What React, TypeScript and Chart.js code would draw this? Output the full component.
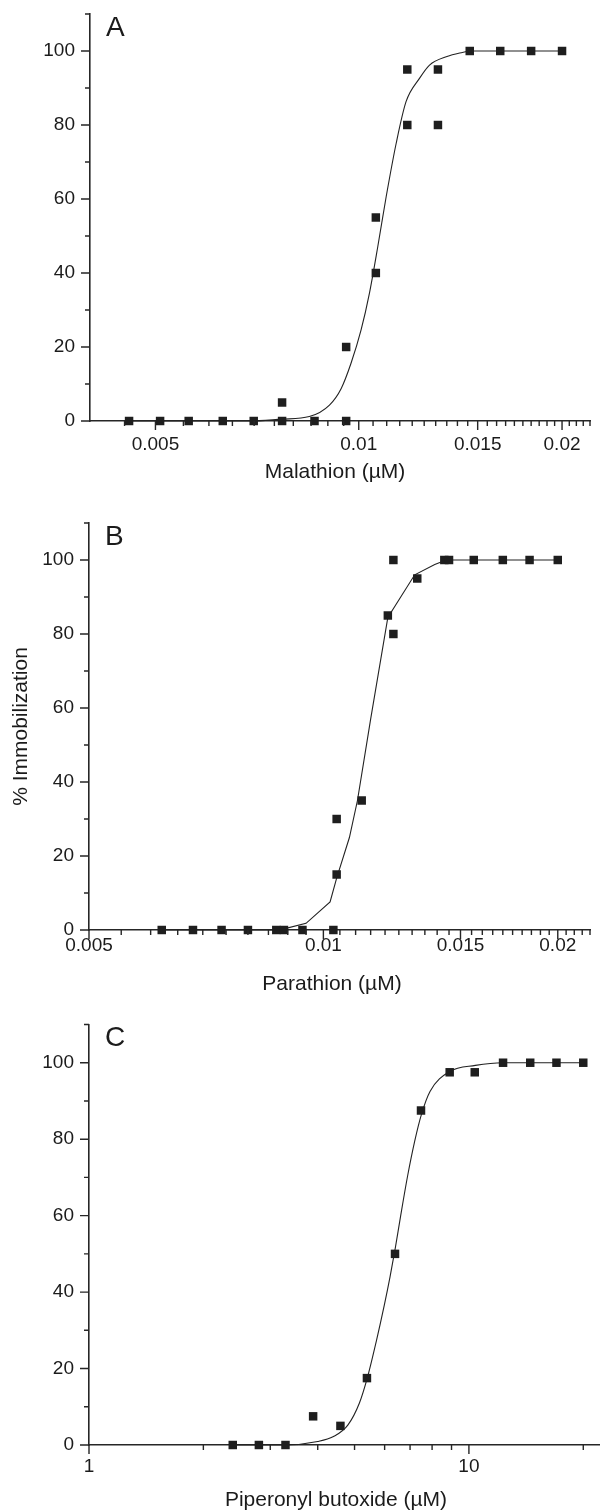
import React, { useEffect, useRef } from "react";
import { Chart, registerables } from "chart.js";

Chart.register(...registerables);

const FONT = "'Liberation Sans', Arial, Helvetica, sans-serif";
const INK = "#1b1b1b";
const AXIS = "#262626";
const MARK = "#1e1e1e";

// ---------- Panel A: Malathion ----------
const malathionDose = [0.00457, 0.00508, 0.0056, 0.00629, 0.00699, 0.0077, 0.0077, 0.0086, 0.00958, 0.00958, 0.0106, 0.0106, 0.0118, 0.0118, 0.0131, 0.0131, 0.0146, 0.0162, 0.018, 0.02];
const malathionResp = [0, 0, 0, 0, 0, 0, 5, 0, 0, 20, 40, 55, 80, 95, 80, 95, 100, 100, 100, 100];
const malathionFitDose = [0.00457, 0.0069, 0.0077, 0.00845, 0.00905, 0.00942, 0.00974, 0.01008, 0.01037, 0.01067, 0.01098, 0.01136, 0.01175, 0.0123, 0.01273, 0.01351, 0.01424, 0.01462, 0.02];
const malathionFitResp = [0, 0, 0.5, 1.2, 4.3, 8.8, 15.6, 24.6, 34.5, 47.1, 60.6, 75, 86.3, 92.6, 96.2, 98.5, 99.6, 100, 100];
const malathionTicks = [0.005, 0.01, 0.015, 0.02];
const malathionTickLabels = ["0.005", "0.01", "0.015", "0.02"];

// ---------- Panel B: Parathion ----------
const parathionDose = [0.0062, 0.0068, 0.0074, 0.008, 0.0087, 0.0089, 0.0094, 0.0103, 0.0104, 0.0104, 0.0112, 0.0121, 0.0123, 0.0123, 0.0132, 0.0143, 0.0145, 0.0156, 0.017, 0.0184, 0.02];
const parathionResp = [0, 0, 0, 0, 0, 0, 0, 0, 15, 30, 35, 85, 80, 100, 95, 100, 100, 100, 100, 100, 100];
const parathionFitDose = [0.0062, 0.0087, 0.0089, 0.0095, 0.0102, 0.0104, 0.0108, 0.01106, 0.0115, 0.0121, 0.0131, 0.0139, 0.0143, 0.0145, 0.02];
const parathionFitResp = [0, 0, 0.3, 1.8, 7.6, 14, 25, 35, 57, 84.5, 96, 98.8, 99.8, 100, 100];
const parathionTicks = [0.005, 0.01, 0.015, 0.02];
const parathionTickLabels = ["0.005", "0.01", "0.015", "0.02"];

// ---------- Panel C: Piperonyl butoxide ----------
const pboDose = [2.39, 2.8, 3.29, 3.89, 4.59, 5.39, 6.39, 7.48, 8.9, 10.36, 12.3, 14.5, 17.0, 20.0];
const pboResp = [0, 0, 0, 7.5, 5, 17.5, 50, 87.5, 97.5, 97.5, 100, 100, 100, 100];
const pboFitDose = [2.39, 3.29, 4.0, 4.4, 4.8, 5.15, 5.4, 5.7, 6.0, 6.2, 6.4, 6.6, 6.9, 7.2, 7.5, 7.9, 8.9, 10.4, 12.3, 20];
const pboFitResp = [0, 0, 0.9, 2.2, 5.2, 11, 17.5, 27, 37, 44, 51.5, 59.5, 70.5, 79.5, 86.5, 92.5, 97.7, 99.3, 100, 100];
const pboTicks = [1, 10];
const pboTickLabels = ["1", "10"];
const pboMinorTicks = [2, 3, 4, 5, 6, 7, 8, 9, 20];

// ---------- shared y axis ----------
const yTicks = [0, 20, 40, 60, 80, 100];
const yTickLabels = ["0", "20", "40", "60", "80", "100"];
const yMinorTicks = [10, 30, 50, 70, 90, 110];

function halfThousandths(fromK: number, toK: number): number[] {
  const out: number[] = [];
  for (let k = fromK; k <= toK; k++) {
    if (k % 10 !== 0) out.push(k * 0.0005);
  }
  return out;
}

type PanelSpec = {
  letter: string;
  top: number;
  height: number;
  chartTop: number;
  chartBottom: number;
  chartLeft: number;
  chartRight: number;
  xMin: number;
  xMax: number;
  dose: number[];
  resp: number[];
  fitDose: number[];
  fitResp: number[];
  smooth: boolean;
  xTicks: number[];
  xTickLabels: string[];
  xMinor: number[];
  xTitle: string;
  xTickPad: number;
  xTitleX: number;
  xTitleY: number;
  yTitle?: string;
};

const panels: PanelSpec[] = [
  {
    letter: "A", top: 0, height: 490,
    chartTop: 14, chartBottom: 421, chartLeft: 90, chartRight: 590,
    xMin: 0.004, xMax: 0.022,
    dose: malathionDose, resp: malathionResp, fitDose: malathionFitDose, fitResp: malathionFitResp, smooth: true,
    xTicks: malathionTicks, xTickLabels: malathionTickLabels, xMinor: halfThousandths(9, 44),
    xTitle: "Malathion (\u00b5M)", xTickPad: 14.5, xTitleX: 335, xTitleY: 472.5,
  },
  {
    letter: "B", top: 490, height: 510,
    chartTop: 33, chartBottom: 440, chartLeft: 89, chartRight: 590,
    xMin: 0.005, xMax: 0.022,
    dose: parathionDose, resp: parathionResp, fitDose: parathionFitDose, fitResp: parathionFitResp, smooth: false,
    xTicks: parathionTicks, xTickLabels: parathionTickLabels, xMinor: halfThousandths(11, 44),
    xTitle: "Parathion (\u00b5M)", xTickPad: 6.5, xTitleX: 332, xTitleY: 494,
    yTitle: "% Immobilization",
  },
  {
    letter: "C", top: 1000, height: 511,
    chartTop: 24.5, chartBottom: 445, chartLeft: 89, chartRight: 605,
    xMin: 1, xMax: 22,
    dose: pboDose, resp: pboResp, fitDose: pboFitDose, fitResp: pboFitResp, smooth: true,
    xTicks: pboTicks, xTickLabels: pboTickLabels, xMinor: pboMinorTicks,
    xTitle: "Piperonyl butoxide (\u00b5M)", xTickPad: 12.5, xTitleX: 336, xTitleY: 500,
  },
];

function Panel({ spec }: { spec: PanelSpec }) {
  const ref = useRef<HTMLCanvasElement | null>(null);

  useEffect(() => {
    const canvas = ref.current;
    if (!canvas) return;
    const s = spec;

    const decorations = {
      id: "decorations" + s.letter,
      afterDraw(chart: any) {
        const { ctx, chartArea } = chart;
        const xs = chart.scales.x;
        const ys = chart.scales.y;
        ctx.save();
        ctx.strokeStyle = AXIS;
        ctx.lineWidth = 1.4;
        ctx.beginPath();
        const bottom = chartArea.bottom;
        const left = chartArea.left;
        const xt = (v: number, len: number) => {
          const p = xs.getPixelForValue(v);
          ctx.moveTo(p, bottom);
          ctx.lineTo(p, bottom + len);
        };
        const yt = (v: number, len: number) => {
          const p = ys.getPixelForValue(v);
          ctx.moveTo(left, p);
          ctx.lineTo(left - len, p);
        };
        s.xTicks.forEach((v) => xt(v, 9));
        s.xMinor.forEach((v) => xt(v, 5));
        yTicks.forEach((v) => yt(v, 9));
        yMinorTicks.forEach((v) => yt(v, 5));
        ctx.stroke();
        ctx.fillStyle = INK;
        // panel letter
        ctx.font = `28px ${FONT}`;
        ctx.textAlign = "left";
        ctx.textBaseline = "alphabetic";
        ctx.fillText(s.letter, chartArea.left + 16, chartArea.top + 21.5);
        // x axis title
        ctx.font = `21px ${FONT}`;
        ctx.textAlign = "center";
        ctx.textBaseline = "middle";
        ctx.fillText(s.xTitle, s.xTitleX, s.xTitleY);
        ctx.restore();
      },
    };

    const chart = new Chart(canvas, {
      type: "scatter",
      data: {
        datasets: [
          {
            type: "line",
            data: s.fitDose.map((x, i) => ({ x, y: s.fitResp[i] })),
            borderColor: "#222",
            borderWidth: 1.1,
            pointRadius: 0,
            fill: false,
            tension: 0,
            cubicInterpolationMode: s.smooth ? "monotone" : "default",
            order: 1,
            clip: false,
          } as any,
          {
            type: "scatter",
            data: s.dose.map((x, i) => ({ x, y: s.resp[i] })),
            pointStyle: "rect",
            pointRadius: 6.0,
            backgroundColor: MARK,
            borderColor: MARK,
            borderWidth: 0,
            order: 0,
            clip: false,
          } as any,
        ],
      },
      options: {
        animation: false,
        responsive: false,
        devicePixelRatio: 1,
        events: [],
        layout: { padding: { top: s.chartTop, right: 605 - s.chartRight, left: 0, bottom: 0 } },
        plugins: {
          legend: { display: false },
          tooltip: { enabled: false },
          title: { display: false },
        },
        scales: {
          x: {
            type: "logarithmic",
            position: "bottom",
            min: s.xMin,
            max: s.xMax,
            afterBuildTicks: (sc: any) => {
              sc.ticks = s.xTicks.map((v) => ({ value: v }));
            },
            afterFit: (sc: any) => {
              sc.height = s.height - s.chartBottom;
              sc.paddingLeft = 0;
              sc.paddingRight = 0;
            },
            grid: { display: false, drawTicks: false, tickLength: 0 },
            border: { display: true, color: AXIS, width: 1.6 },
            ticks: {
              autoSkip: false,
              maxRotation: 0,
              minRotation: 0,
              padding: s.xTickPad,
              color: INK,
              font: { family: FONT, size: 19, lineHeight: 1 },
              callback: (_v: any, i: number) => s.xTickLabels[i],
            },
            title: { display: false },
          } as any,
          y: {
            type: "linear",
            position: "left",
            min: 0,
            max: 110,
            afterBuildTicks: (sc: any) => {
              sc.ticks = yTicks.map((v) => ({ value: v }));
            },
            afterFit: (sc: any) => {
              sc.width = s.chartLeft;
              sc.paddingTop = 0;
              sc.paddingBottom = 0;
            },
            grid: { display: false, drawTicks: false, tickLength: 0 },
            border: { display: true, color: AXIS, width: 1.6 },
            ticks: {
              autoSkip: false,
              padding: 15,
              color: INK,
              font: { family: FONT, size: 19, lineHeight: 1 },
              callback: (_v: any, i: number) => yTickLabels[i],
            },
            title: {
              display: !!s.yTitle,
              text: s.yTitle || "",
              color: INK,
              font: { family: FONT, size: 21, lineHeight: 1 },
              padding: { top: 11, bottom: 0 },
            },
          } as any,
        },
      },
      plugins: [decorations],
    });

    return () => chart.destroy();
  }, [spec]);

  return (
    <canvas
      ref={ref}
      width={605}
      height={spec.height}
      style={{ position: "absolute", left: 0, top: spec.top, display: "block" }}
    />
  );
}

export default function App() {
  return (
    <div style={{ position: "absolute", left: 0, top: 0, width: 605, height: 1511, background: "#fff" }}>
      {panels.map((p) => (
        <Panel key={p.letter} spec={p} />
      ))}
    </div>
  );
}
